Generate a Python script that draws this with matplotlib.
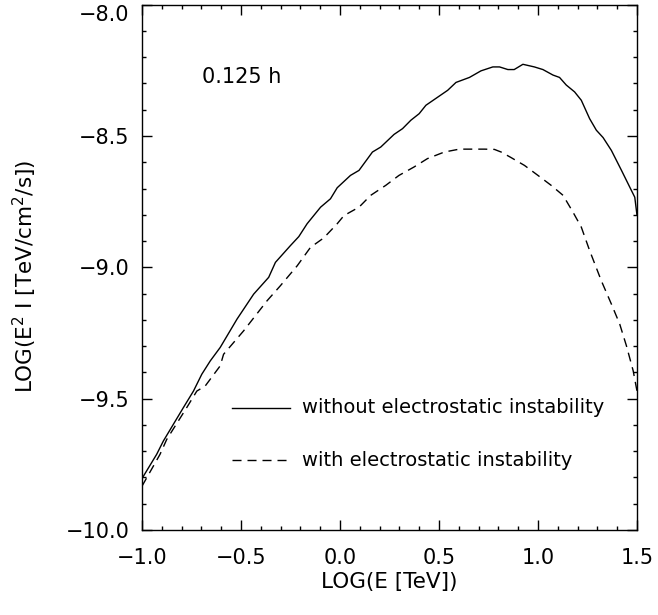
import numpy as np
import matplotlib
matplotlib.use('Agg')
import matplotlib.pyplot as plt
from matplotlib.ticker import MultipleLocator

# datos
logE_sin = [-1.0, -0.926, -0.892, -0.791, -0.740, -0.698, -0.655, -0.605, -0.520, -0.436,
            -0.360, -0.326, -0.250, -0.208, -0.166, -0.098, -0.048, -0.014, 0.053, 0.096,
            0.164, 0.206, 0.273, 0.316, 0.358, 0.400, 0.434, 0.544, 0.586, 0.654,
            0.712, 0.772, 0.806, 0.848, 0.880, 0.924, 0.982, 1.025, 1.076, 1.109,
            1.143, 1.185, 1.219, 1.261, 1.295, 1.329, 1.371, 1.422, 1.464, 1.489, 1.5]
flux_sin = [-9.804, -9.712, -9.661, -9.534, -9.471, -9.407, -9.356, -9.305, -9.197, -9.102,
            -9.038, -8.981, -8.917, -8.883, -8.834, -8.771, -8.739, -8.697, -8.650, -8.631,
            -8.561, -8.542, -8.494, -8.472, -8.440, -8.415, -8.383, -8.326, -8.296, -8.277,
            -8.252, -8.237, -8.237, -8.247, -8.247, -8.227, -8.237, -8.247, -8.268, -8.277,
            -8.306, -8.332, -8.364, -8.434, -8.478, -8.506, -8.555, -8.631, -8.695, -8.733, -8.80]

logE_con = [-1.0, -0.909, -0.875, -0.774, -0.723, -0.681, -0.605, -0.588, -0.487, -0.368,
            -0.301, -0.216, -0.149, -0.082, -0.014, 0.020, 0.096, 0.155, 0.231, 0.298,
            0.374, 0.442, 0.527, 0.603, 0.730, 0.780, 0.814, 0.864, 0.932, 1.000,
            1.067, 1.127, 1.177, 1.219, 1.261, 1.320, 1.371, 1.413, 1.447, 1.481, 1.5]
flux_con = [-9.833, -9.712, -9.655, -9.534, -9.471, -9.452, -9.375, -9.331, -9.242, -9.127,
            -9.070, -8.994, -8.924, -8.888, -8.834, -8.803, -8.771, -8.726, -8.688, -8.650,
            -8.618, -8.586, -8.561, -8.550, -8.550, -8.551, -8.561, -8.582, -8.612, -8.650,
            -8.688, -8.726, -8.790, -8.847, -8.936, -9.051, -9.140, -9.216, -9.299, -9.394, -9.47]

etiquetas = ['without electrostatic instability', 'with electrostatic instability']

xticks = [-1.0, -0.5, 0.0, 0.5, 1.0, 1.5]
yticks = [-10.0, -9.5, -9.0, -8.5, -8.0]

def fmt(v):
    return ('%.1f' % v).replace('-', '\u2212')

plt.rcParams['font.family'] = 'DejaVu Sans'

fig = plt.figure(figsize=(6.58, 6.15), dpi=100)
ax = fig.add_axes([0.2158, 0.1382, 0.7522, 0.8542])

ax.plot(logE_sin, flux_sin, 'k-', lw=1.0)
ax.plot(logE_con, flux_con, 'k', lw=1.0, dashes=(6.5, 4.3))

# leyenda dibujada a mano, como en IDL
ax.plot([-0.544, -0.25], [-9.534, -9.534], 'k-', lw=1.0)
ax.plot([-0.544, -0.25], [-9.734, -9.734], 'k', lw=1.0, dashes=(6.5, 4.3))
ax.text(-0.19, -9.534, etiquetas[0], fontsize=14, va='center')
ax.text(-0.19, -9.734, etiquetas[1], fontsize=14, va='center')
ax.text(-0.696, -8.276, '0.125 h', fontsize=15, va='center')

ax.set_xlim(-1.0, 1.5)
ax.set_ylim(-10.0, -8.0)
ax.set_xticks(xticks, labels=[fmt(v) for v in xticks])
ax.set_yticks(yticks, labels=[fmt(v) for v in yticks])
ax.xaxis.set_minor_locator(MultipleLocator(0.1))
ax.yaxis.set_minor_locator(MultipleLocator(0.1))
ax.tick_params(which='both', direction='in', top=True, right=True, width=1.0)
ax.tick_params(which='major', length=7, labelsize=15)
ax.tick_params(which='minor', length=3)
ax.tick_params(axis='x', which='major', pad=13)
ax.tick_params(axis='y', which='major', pad=9)
# la etiqueta de arriba queda dentro de la figura
ax.get_yticklabels()[-1].set_va('top')
for s in ax.spines.values():
    s.set_linewidth(1.0)

ax.set_xlabel('LOG(E [TeV])', fontsize=15.5, va='top')
ax.set_ylabel('LOG(E$^2$ I [TeV/cm$^2$/s])', fontsize=15.5, va='center')
ax.xaxis.set_label_coords(0.5, -0.08)
ax.yaxis.set_label_coords(-0.236, 0.483)

fig.savefig('out.png', dpi=100)
